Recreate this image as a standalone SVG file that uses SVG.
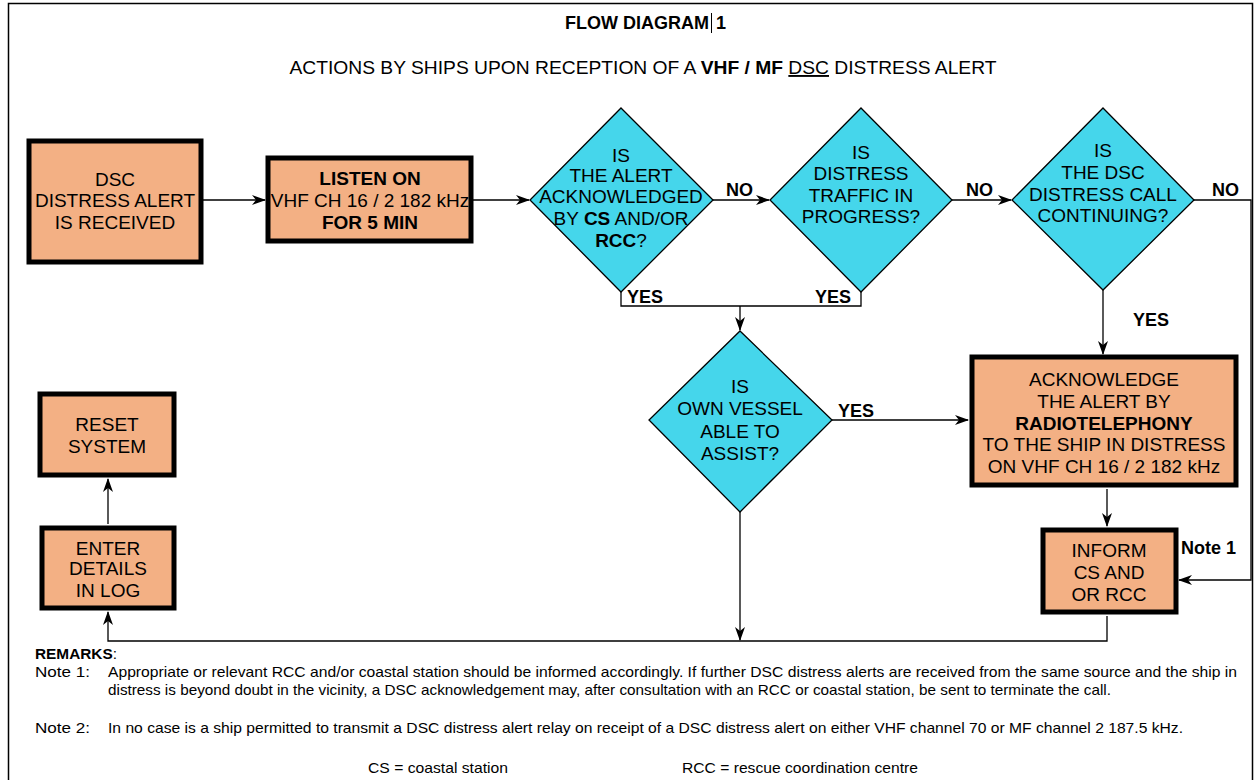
<svg xmlns="http://www.w3.org/2000/svg" width="1255" height="780" viewBox="0 0 1255 780">
<defs>
<marker id="arr" markerWidth="14" markerHeight="10" refX="13" refY="5" orient="auto" markerUnits="userSpaceOnUse">
<path d="M0,0 L14,5 L0,10 L4,5 z" fill="#000"/>
</marker>
<style>
text{font-family:"Liberation Sans",Arial,sans-serif;fill:#000}
.box{fill:#F3B084;stroke:#000;stroke-width:5}
.dia{fill:#45D6EB;stroke:#000;stroke-width:1.3}
.t{font-size:19px;text-anchor:middle}
.b{font-weight:bold}
.lbl{font-size:18px;font-weight:bold}
.ln{fill:none;stroke:#000;stroke-width:1.3}
.r{font-size:15px}
</style>
</defs>
<rect x="0" y="0" width="1255" height="780" fill="#fff"/>
<path d="M8.5,780 V3.5 H1252.5 V780" fill="none" stroke="#000" stroke-width="1.5"/>

<g id="title">
<text x="709" y="29" class="b" font-size="18" text-anchor="end">FLOW DIAGRAM</text>
<line x1="711.5" y1="13" x2="711.5" y2="33" stroke="#000" stroke-width="1"/>
<text x="716" y="29" class="b" font-size="18">1</text>
<text x="643" y="74" font-size="19" text-anchor="middle" textLength="707" lengthAdjust="spacingAndGlyphs">ACTIONS BY SHIPS UPON RECEPTION OF A <tspan font-weight="bold">VHF / MF</tspan> <tspan text-decoration="underline">DSC</tspan> DISTRESS ALERT</text>
</g>

<g id="connectors">
<line class="ln" x1="203" y1="200" x2="265" y2="200" marker-end="url(#arr)"/>
<line class="ln" x1="473" y1="200" x2="529" y2="200" marker-end="url(#arr)"/>
<line class="ln" x1="713" y1="200" x2="769" y2="200" marker-end="url(#arr)"/>
<line class="ln" x1="952" y1="200" x2="1011" y2="200" marker-end="url(#arr)"/>
<polyline class="ln" points="1194,200 1251,200 1251,580 1179,580" marker-end="url(#arr)"/>
<polyline class="ln" points="621,292 621,306 861,306 861,292"/>
<line class="ln" x1="740" y1="306" x2="740" y2="330" marker-end="url(#arr)"/>
<line class="ln" x1="1103" y1="290" x2="1103" y2="354" marker-end="url(#arr)"/>
<line class="ln" x1="832" y1="420" x2="968" y2="420" marker-end="url(#arr)"/>
<line class="ln" x1="1107" y1="489" x2="1107" y2="526" marker-end="url(#arr)"/>
<line class="ln" x1="740" y1="512" x2="740" y2="640" marker-end="url(#arr)"/>
<polyline class="ln" points="1107,616 1107,641 108,641 108,612" marker-end="url(#arr)"/>
<line class="ln" x1="108" y1="524" x2="108" y2="479" marker-end="url(#arr)"/>
<text x="726" y="196" class="lbl">NO</text>
<text x="966" y="196" class="lbl">NO</text>
<text x="1212" y="196" class="lbl">NO</text>
<text x="627" y="303" class="lbl">YES</text>
<text x="815" y="303" class="lbl">YES</text>
<text x="1133" y="326" class="lbl">YES</text>
<text x="838" y="417" class="lbl">YES</text>
<text x="1181" y="554" class="lbl">Note 1</text>
</g>

<g id="n-received">
<rect class="box" x="29" y="141" width="172" height="121"/>
<text class="t" x="115" y="186">DSC</text>
<text class="t" x="115" y="207">DISTRESS ALERT</text>
<text class="t" x="115" y="229">IS RECEIVED</text>
</g>

<g id="n-listen">
<rect class="box" x="268" y="158" width="203" height="83"/>
<text class="t b" x="370" y="185">LISTEN ON</text>
<text class="t" x="370" y="207">VHF CH 16 / 2 182 kHz</text>
<text class="t b" x="370" y="229">FOR 5 MIN</text>
</g>

<g id="n-ack-q">
<polygon class="dia" points="621,108 713,200 621,292 530,200"/>
<text class="t" x="621" y="162">IS</text>
<text class="t" x="621" y="182">THE ALERT</text>
<text class="t" x="621" y="203">ACKNOWLEDGED</text>
<text class="t" x="621" y="225">BY <tspan font-weight="bold">CS</tspan> AND/OR</text>
<text class="t" x="621" y="247"><tspan font-weight="bold">RCC</tspan>?</text>
</g>

<g id="n-traffic-q">
<polygon class="dia" points="861,108 952,200 861,292 770,200"/>
<text class="t" x="861" y="159">IS</text>
<text class="t" x="861" y="180">DISTRESS</text>
<text class="t" x="861" y="202">TRAFFIC IN</text>
<text class="t" x="861" y="223">PROGRESS?</text>
</g>

<g id="n-continuing-q">
<polygon class="dia" points="1103,108 1194,200 1103,290 1012,200"/>
<text class="t" x="1103" y="157">IS</text>
<text class="t" x="1103" y="179">THE DSC</text>
<text class="t" x="1103" y="201">DISTRESS CALL</text>
<text class="t" x="1103" y="222">CONTINUING?</text>
</g>

<g id="n-assist-q">
<polygon class="dia" points="740,331 832,420 740,512 649,420"/>
<text class="t" x="740" y="393">IS</text>
<text class="t" x="740" y="415">OWN VESSEL</text>
<text class="t" x="740" y="438">ABLE TO</text>
<text class="t" x="740" y="460">ASSIST?</text>
</g>

<g id="n-acknowledge">
<rect class="box" x="972" y="357" width="264" height="128"/>
<text class="t" x="1104" y="386">ACKNOWLEDGE</text>
<text class="t" x="1104" y="408">THE ALERT BY</text>
<text class="t b" x="1104" y="430">RADIOTELEPHONY</text>
<text class="t" x="1104" y="451">TO THE SHIP IN DISTRESS</text>
<text class="t" x="1104" y="473">ON VHF CH 16 / 2 182 kHz</text>
</g>

<g id="n-inform">
<rect class="box" x="1043" y="530" width="133" height="82"/>
<text class="t" x="1109" y="557">INFORM</text>
<text class="t" x="1109" y="579">CS AND</text>
<text class="t" x="1109" y="601">OR RCC</text>
</g>

<g id="n-enter">
<rect class="box" x="42" y="528" width="132" height="80"/>
<text class="t" x="108" y="555">ENTER</text>
<text class="t" x="108" y="575">DETAILS</text>
<text class="t" x="108" y="597">IN LOG</text>
</g>

<g id="n-reset">
<rect class="box" x="40" y="394" width="134" height="81"/>
<text class="t" x="107" y="431">RESET</text>
<text class="t" x="107" y="453">SYSTEM</text>
</g>

<g id="remarks">
<text x="35" y="659" class="r" textLength="82" lengthAdjust="spacingAndGlyphs"><tspan font-weight="bold">REMARKS</tspan>:</text>
<text x="35" y="677" class="r" textLength="55" lengthAdjust="spacingAndGlyphs">Note 1:</text>
<text x="108" y="677" class="r" textLength="1129" lengthAdjust="spacingAndGlyphs">Appropriate or relevant RCC and/or coastal station should be informed accordingly. If further DSC distress alerts are received from the same source and the ship in</text>
<text x="108" y="695" class="r" textLength="1003" lengthAdjust="spacingAndGlyphs">distress is beyond doubt in the vicinity, a DSC acknowledgement may, after consultation with an RCC or coastal station, be sent to terminate the call.</text>
<text x="35" y="733" class="r" textLength="55" lengthAdjust="spacingAndGlyphs">Note 2:</text>
<text x="108" y="733" class="r" textLength="1075" lengthAdjust="spacingAndGlyphs">In no case is a ship permitted to transmit a DSC distress alert relay on receipt of a DSC distress alert on either VHF channel 70 or MF channel 2 187.5 kHz.</text>
<text x="368" y="773" class="r" textLength="140" lengthAdjust="spacingAndGlyphs">CS = coastal station</text>
<text x="682" y="773" class="r" textLength="236" lengthAdjust="spacingAndGlyphs">RCC = rescue coordination centre</text>
</g>
</svg>
